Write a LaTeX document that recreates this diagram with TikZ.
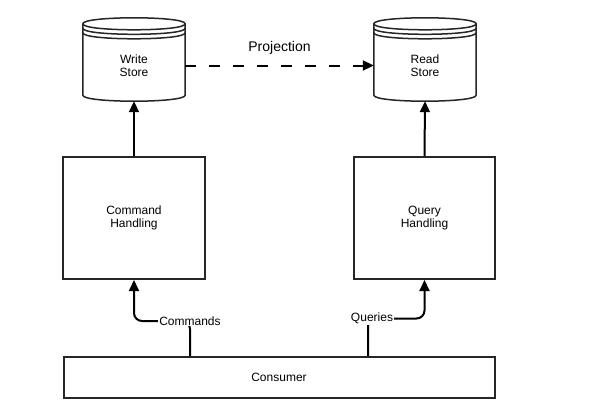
\documentclass[tikz,border=0pt]{standalone}
\usepackage{fontspec}
\setmainfont{Liberation Sans}
\usetikzlibrary{arrows.meta,calc}
\tikzset{
  box/.style={draw=black!85, line width=2pt, fill=white, align=center,
    font=\fontsize{12}{13.5}\selectfont, inner sep=0pt},
  storebody/.style={align=center, font=\fontsize{12}{13.5}\selectfont,
    minimum width=102pt, minimum height=71pt, inner sep=0pt},
  storeline/.style={draw=black!85, line width=1.5pt, line join=round},
  conn/.style={draw=black, line width=2pt, -{Triangle[length=11pt,width=10pt]}},
  dashconn/.style={conn, dash pattern=on 11pt off 13pt},
  lbl/.style={fill=white, font=\fontsize{12}{13.5}\selectfont, inner sep=1pt},
}
\newcommand\storeshape[1]{%
  \draw[storeline, fill=white]
    ($(#1.north west)+(0,-6)$) -- ($(#1.south west)+(0,-6)$)
    .. controls ($(#1.south west)+(0,2)$) and ($(#1.south east)+(0,2)$) ..
    ($(#1.south east)+(0,-6)$) -- ($(#1.north east)+(0,-6)$)
    .. controls ($(#1.north east)+(0,-14)$) and ($(#1.north west)+(0,-14)$) .. cycle;
  \foreach \d in {-6,-1.5,3}
    \draw[storeline] ($(#1.north west)+(0,\d)$)
      .. controls ($(#1.north west)+(0,\d+8)$) and ($(#1.north east)+(0,\d+8)$) ..
      ($(#1.north east)+(0,\d)$);
}
\begin{document}
\begin{tikzpicture}[x=1pt,y=-1pt]
\useasboundingbox (0,0) rectangle (604,407);
% stores
\node[storebody] (ws) at (134,65.5) {};
\node[storebody] (rs) at (425,65.5) {};
\storeshape{ws}
\storeshape{rs}
\node[storebody] at (ws) {Write\\Store};
\node[storebody] at (rs) {Read\\Store};
% handling boxes
\node[box, minimum width=142pt, minimum height=122pt] (ch) at (134,218) {Command\\Handling};
\node[box, minimum width=141pt, minimum height=122pt] (qh) at (424.5,218) {Query\\Handling};
\node[box, minimum width=431pt, minimum height=41pt] (cons) at (279,377.5) {Consumer};
% connectors
\draw[conn] (ch.north) -- (ws.south);
\draw[conn] (qh.north) -- (rs.south);
\draw[dashconn] (ws.east) -- node[above=7pt, font=\fontsize{14}{16}\selectfont] (proj) {Projection} (rs.west);
\coordinate (cmdc) at (190,321);
\coordinate (qc) at (368,318.5);
\draw[conn, rounded corners=8pt] (cons.north -| cmdc) -- (cmdc) -- (cmdc -| ch.south) -- (ch.south);
\draw[conn, rounded corners=8pt] (cons.north -| qc) -- (qc) -- (qc -| qh.south) -- (qh.south);
\node[lbl] (cmdlabel) at (cmdc) {Commands};
\node[lbl] (qlabel) at ([xshift=4pt]qc) {Queries};
\end{tikzpicture}
\end{document}
